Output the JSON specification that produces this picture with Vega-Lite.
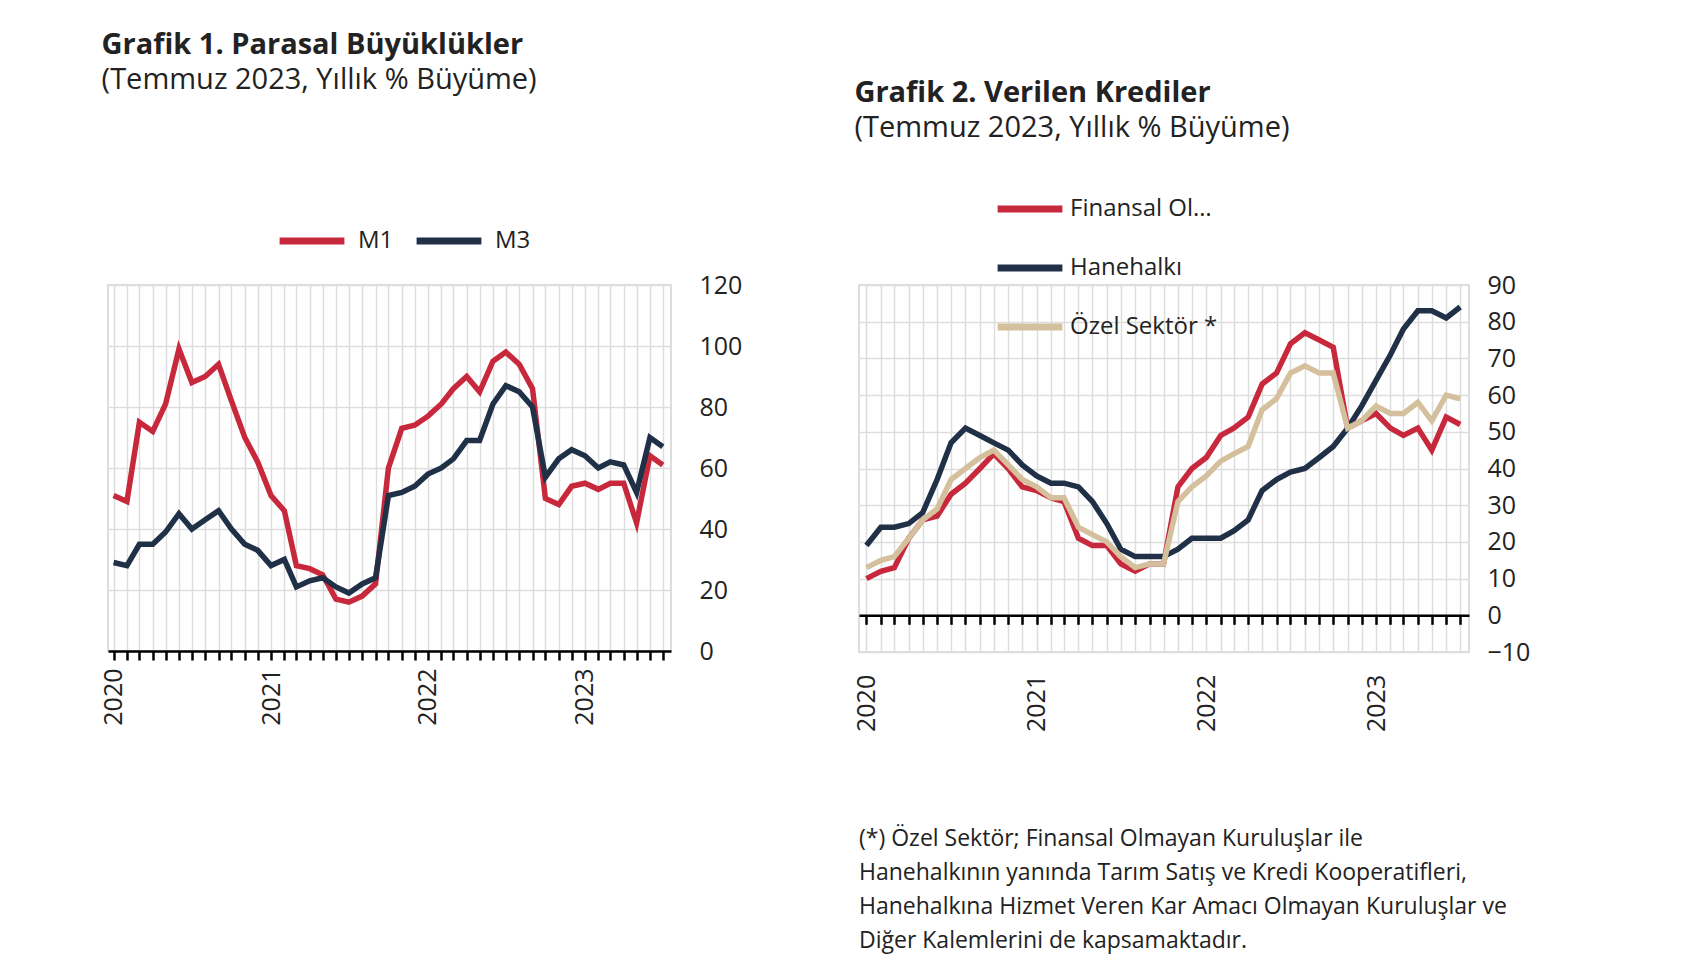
{
  "$schema": "https://vega.github.io/schema/vega-lite/v6.json",
  "background": "white",
  "padding": {"left": 100, "top": 30, "right": 10, "bottom": 10},
  "spacing": 110,
  "config": {
    "font": "Open Sans",
    "view": {"stroke": "#dddddd", "strokeWidth": 2},
    "axis": {"labelFont": "Open Sans", "labelFontSize": 25, "labelColor": "#222", "gridColor": "#dddddd", "gridWidth": 1.5, "title": null},
    "legend": {"labelFont": "Open Sans", "labelFontSize": 24, "labelColor": "#222"},
    "title": {"font": "Open Sans", "fontSize": 29, "fontWeight": "bold", "color": "#222", "anchor": "start", "subtitleFont": "Open Sans", "subtitleFontSize": 29, "subtitleColor": "#222"}
  },
  "datasets": {
    "para": [
      {"d":"2020-01-01","M1":51,"M3":29},{"d":"2020-02-01","M1":49,"M3":28},{"d":"2020-03-01","M1":75,"M3":35},{"d":"2020-04-01","M1":72,"M3":35},
      {"d":"2020-05-01","M1":81,"M3":39},{"d":"2020-06-01","M1":99,"M3":45},{"d":"2020-07-01","M1":88,"M3":40},{"d":"2020-08-01","M1":90,"M3":43},
      {"d":"2020-09-01","M1":94,"M3":46},{"d":"2020-10-01","M1":82,"M3":40},{"d":"2020-11-01","M1":70,"M3":35},{"d":"2020-12-01","M1":62,"M3":33},
      {"d":"2021-01-01","M1":51,"M3":28},{"d":"2021-02-01","M1":46,"M3":30},{"d":"2021-03-01","M1":28,"M3":21},{"d":"2021-04-01","M1":27,"M3":23},
      {"d":"2021-05-01","M1":25,"M3":24},{"d":"2021-06-01","M1":17,"M3":21},{"d":"2021-07-01","M1":16,"M3":19},{"d":"2021-08-01","M1":18,"M3":22},
      {"d":"2021-09-01","M1":22,"M3":24},{"d":"2021-10-01","M1":60,"M3":51},{"d":"2021-11-01","M1":73,"M3":52},{"d":"2021-12-01","M1":74,"M3":54},
      {"d":"2022-01-01","M1":77,"M3":58},{"d":"2022-02-01","M1":81,"M3":60},{"d":"2022-03-01","M1":86,"M3":63},{"d":"2022-04-01","M1":90,"M3":69},
      {"d":"2022-05-01","M1":85,"M3":69},{"d":"2022-06-01","M1":95,"M3":81},{"d":"2022-07-01","M1":98,"M3":87},{"d":"2022-08-01","M1":94,"M3":85},
      {"d":"2022-09-01","M1":86,"M3":80},{"d":"2022-10-01","M1":50,"M3":57},{"d":"2022-11-01","M1":48,"M3":63},{"d":"2022-12-01","M1":54,"M3":66},
      {"d":"2023-01-01","M1":55,"M3":64},{"d":"2023-02-01","M1":53,"M3":60},{"d":"2023-03-01","M1":55,"M3":62},{"d":"2023-04-01","M1":55,"M3":61},
      {"d":"2023-05-01","M1":42,"M3":52},{"d":"2023-06-01","M1":64,"M3":70},{"d":"2023-07-01","M1":61,"M3":67}
    ],
    "kredi": [
      {"d":"2020-01-01","F":10,"H":19,"O":13},{"d":"2020-02-01","F":12,"H":24,"O":15},{"d":"2020-03-01","F":13,"H":24,"O":16},{"d":"2020-04-01","F":21,"H":25,"O":21},
      {"d":"2020-05-01","F":26,"H":28,"O":26},{"d":"2020-06-01","F":27,"H":37,"O":29},{"d":"2020-07-01","F":33,"H":47,"O":37},{"d":"2020-08-01","F":36,"H":51,"O":40},
      {"d":"2020-09-01","F":40,"H":49,"O":43},{"d":"2020-10-01","F":44,"H":47,"O":45},{"d":"2020-11-01","F":40,"H":45,"O":41},{"d":"2020-12-01","F":35,"H":41,"O":37},
      {"d":"2021-01-01","F":34,"H":38,"O":35},{"d":"2021-02-01","F":32,"H":36,"O":32},{"d":"2021-03-01","F":31,"H":36,"O":32},{"d":"2021-04-01","F":21,"H":35,"O":24},
      {"d":"2021-05-01","F":19,"H":31,"O":22},{"d":"2021-06-01","F":19,"H":25,"O":20},{"d":"2021-07-01","F":14,"H":18,"O":16},{"d":"2021-08-01","F":12,"H":16,"O":13},
      {"d":"2021-09-01","F":14,"H":16,"O":14},{"d":"2021-10-01","F":14,"H":16,"O":14},{"d":"2021-11-01","F":35,"H":18,"O":31},{"d":"2021-12-01","F":40,"H":21,"O":35},
      {"d":"2022-01-01","F":43,"H":21,"O":38},{"d":"2022-02-01","F":49,"H":21,"O":42},{"d":"2022-03-01","F":51,"H":23,"O":44},{"d":"2022-04-01","F":54,"H":26,"O":46},
      {"d":"2022-05-01","F":63,"H":34,"O":56},{"d":"2022-06-01","F":66,"H":37,"O":59},{"d":"2022-07-01","F":74,"H":39,"O":66},{"d":"2022-08-01","F":77,"H":40,"O":68},
      {"d":"2022-09-01","F":75,"H":43,"O":66},{"d":"2022-10-01","F":73,"H":46,"O":66},{"d":"2022-11-01","F":51,"H":51,"O":51},{"d":"2022-12-01","F":53,"H":57,"O":53},
      {"d":"2023-01-01","F":55,"H":64,"O":57},{"d":"2023-02-01","F":51,"H":71,"O":55},{"d":"2023-03-01","F":49,"H":78,"O":55},{"d":"2023-04-01","F":51,"H":83,"O":58},
      {"d":"2023-05-01","F":45,"H":83,"O":53},{"d":"2023-06-01","F":54,"H":81,"O":60},{"d":"2023-07-01","F":52,"H":84,"O":59}
    ]
  },
  "resolve": {"scale": {"color": "independent"}},
  "hconcat": [
    {
      "title": {"text": "Grafik 1. Parasal Büyüklükler", "subtitle": "(Temmuz 2023, Yıllık % Büyüme)", "offset": 110, "subtitlePadding": 6},
      "width": 563,
      "height": 366,
      "data": {"name": "para"},
      "transform": [{"fold": ["M1", "M3"], "as": ["s", "v"]}],
      "mark": {"type": "line", "strokeWidth": 5.5, "strokeJoin": "miter"},
      "encoding": {
        "x": {
          "field": "d", "type": "temporal", "scale": {"type": "utc", "domain": ["2019-12-19", "2023-07-20"]},
          "axis": {
            "tickCount": {"interval": "month", "step": 1}, "grid": true, "domainColor": "#000", "domainWidth": 2.5,
            "tickColor": "#000", "tickWidth": 2.5, "tickSize": 9, "labelAngle": -90, "labelAlign": "right", "labelBaseline": "middle",
            "labelPadding": 8, "labelOverlap": false, "labelBound": false, "labelFlush": false,
            "labelExpr": "utcmonth(datum.value) == 0 ? utcFormat(datum.value, '%Y') : ''"
          }
        },
        "y": {
          "field": "v", "type": "quantitative", "scale": {"domain": [0, 120], "nice": false},
          "axis": {"orient": "right", "values": [0, 20, 40, 60, 80, 100, 120], "domain": false, "ticks": false, "labelPadding": 28}
        },
        "color": {
          "field": "s", "type": "nominal",
          "scale": {"domain": ["M1", "M3"], "range": ["#c8283c", "#1f3047"]},
          "legend": {"title": null, "orient": "none", "legendX": 168, "legendY": -80, "direction": "horizontal", "symbolType": "stroke", "symbolSize": 4200, "symbolStrokeWidth": 7, "columnPadding": 8, "labelOffset": 10}
        }
      }
    },
    {
      "vconcat": [
        {
          "title": {"text": "Grafik 2. Verilen Krediler", "subtitle": "(Temmuz 2023, Yıllık % Büyüme)", "offset": 130, "subtitlePadding": 6},
          "width": 610,
          "height": 367,
          "data": {"name": "kredi"},
          "transform": [{"fold": ["F", "H", "O"], "as": ["k", "v"]}],
          "mark": {"type": "line", "strokeWidth": 5.5, "strokeJoin": "miter"},
          "encoding": {
            "x": {
              "field": "d", "type": "temporal", "scale": {"type": "utc", "domain": ["2019-12-16", "2023-07-20"]},
              "axis": {
                "tickCount": {"interval": "month", "step": 1}, "grid": true, "offset": -36.7, "domainColor": "#000", "domainWidth": 2.5,
                "tickColor": "#000", "tickWidth": 2.5, "tickSize": 9, "labelAngle": -90, "labelAlign": "right", "labelBaseline": "middle",
                "labelPadding": 50, "labelOverlap": false, "labelBound": false, "labelFlush": false,
                "labelExpr": "utcmonth(datum.value) == 0 ? utcFormat(datum.value, '%Y') : ''"
              }
            },
            "y": {
              "field": "v", "type": "quantitative", "scale": {"domain": [-10, 90], "nice": false},
              "axis": {"orient": "right", "values": [-10, 0, 10, 20, 30, 40, 50, 60, 70, 80, 90], "domain": false, "ticks": false, "labelPadding": 18}
            },
            "color": {
              "field": "k", "type": "nominal",
              "scale": {"domain": ["F", "H", "O"], "range": ["#c8283c", "#1f3047", "#d4c09c"]},
              "legend": {"title": null, "orient": "none", "legendX": 135, "legendY": -112, "direction": "vertical", "symbolType": "stroke", "symbolSize": 4200, "symbolStrokeWidth": 7, "rowPadding": 9, "labelOffset": 4,
                "labelExpr": "datum.label == 'F' ? 'Finansal Olmayan Kuruluşlar' : datum.label == 'H' ? 'Hanehalkı' : 'Özel Sektör *'"}
            }
          }
        },
        {
          "width": 610,
          "height": 130,
          "view": {"stroke": null},
          "data": {"values": [{"t": "(*) Özel Sektör; Finansal Olmayan Kuruluşlar ile\nHanehalkının yanında Tarım Satış ve Kredi Kooperatifleri,\nHanehalkına Hizmet Veren Kar Amacı Olmayan Kuruluşlar ve\nDiğer Kalemlerini de kapsamaktadır."}]},
          "mark": {"type": "text", "align": "left", "baseline": "top", "x": 0, "y": 0, "fontSize": 23, "font": "Open Sans", "color": "#222", "lineHeight": 34, "lineBreak": "\n"},
          "encoding": {"text": {"field": "t"}}
        }
      ],
      "spacing": 95
    }
  ]
}
